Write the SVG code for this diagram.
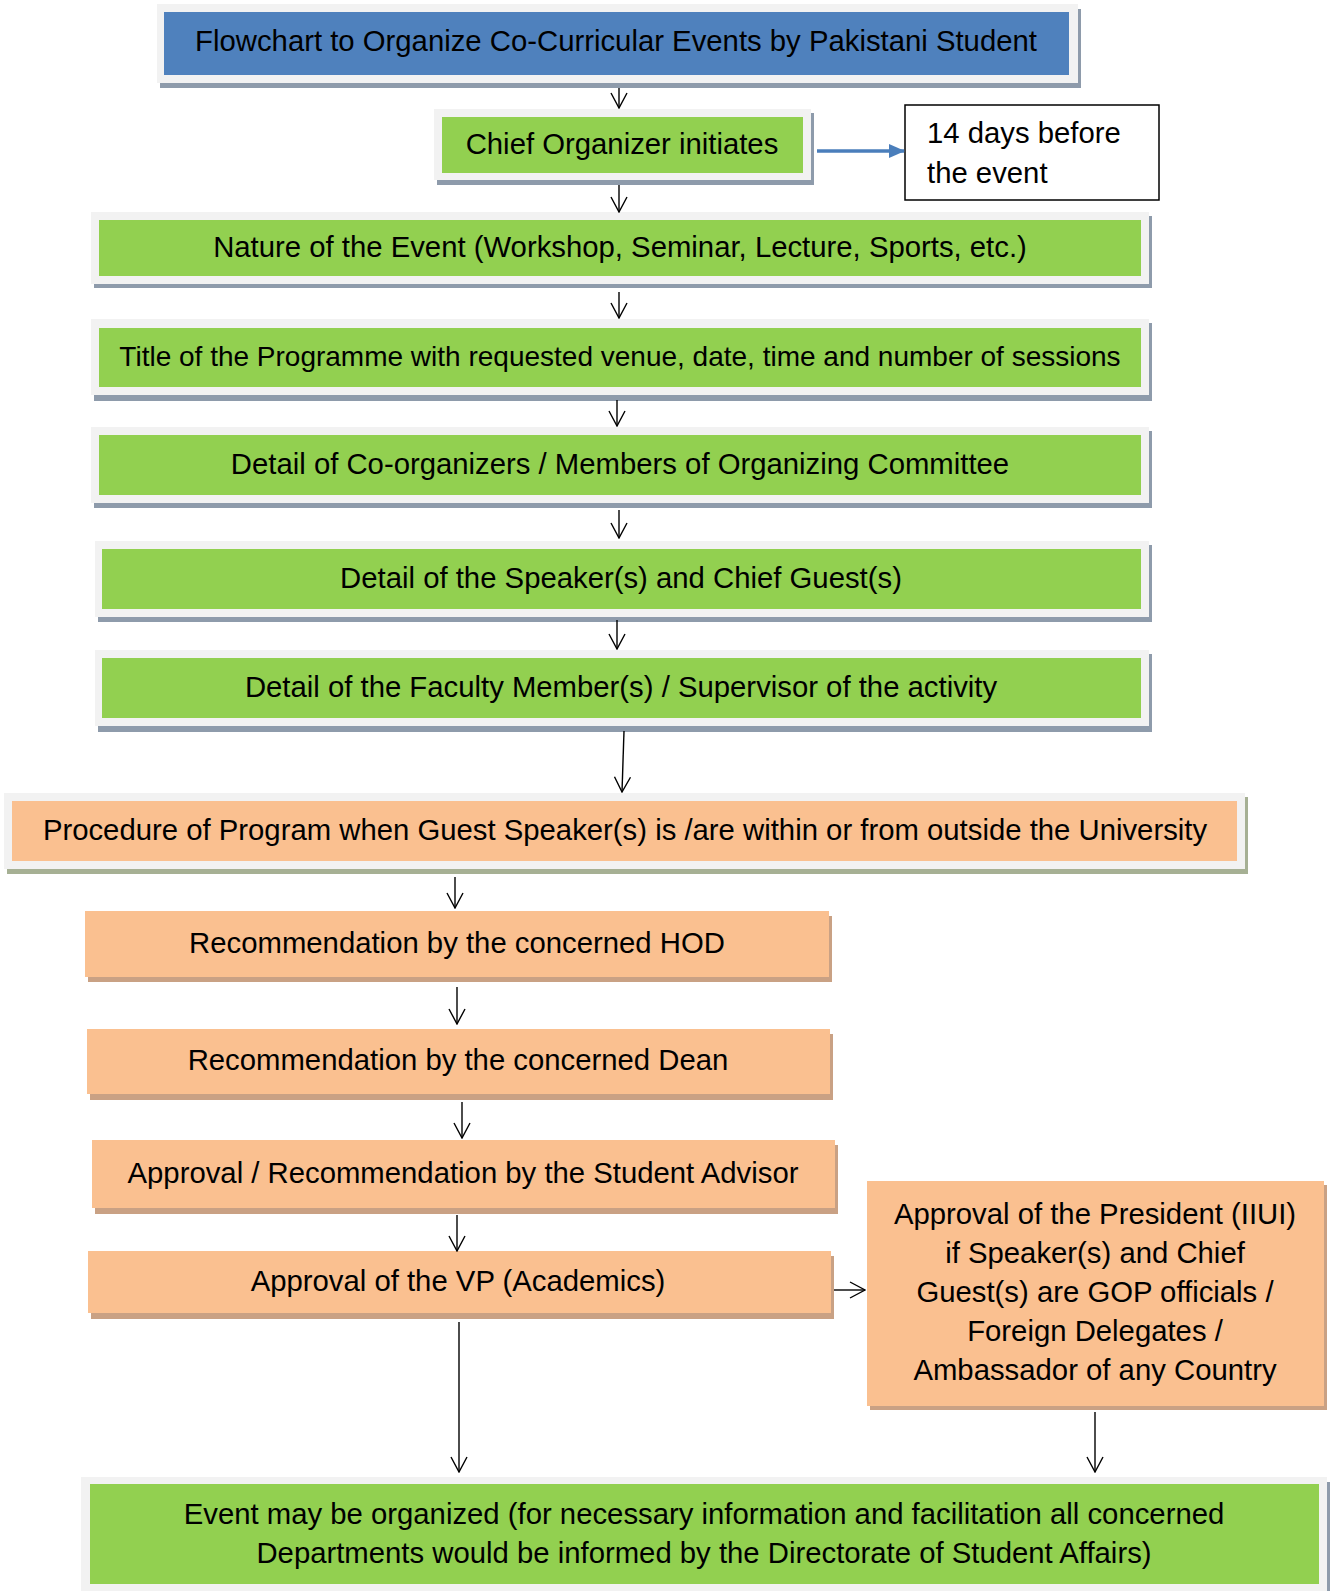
<svg xmlns="http://www.w3.org/2000/svg" width="1335" height="1591" viewBox="0 0 1335 1591">
<defs>
<style>
text{font-family:"Liberation Sans",Arial,sans-serif;font-size:29.3px;fill:#000;text-anchor:middle}
.fr{fill:#f2f2f2}
.sh{fill:#8e9bab}
.shp{fill:#a6b094}
.sho{fill:#c9a184}
.bl{fill:#4f81bd}
.gr{fill:#92d050}
.or{fill:#fac090}
.con{stroke:#000;stroke-width:1.4;fill:none;marker-end:url(#v)}
</style>
<marker id="v" viewBox="0 0 17 18" refX="16" refY="9" markerWidth="17" markerHeight="18" markerUnits="userSpaceOnUse" orient="auto">
<path d="M1,1 L16,9 L1,17" fill="none" stroke="#000" stroke-width="1.4"/>
</marker>
<marker id="bt" viewBox="0 0 16 14" refX="15" refY="7" markerWidth="16" markerHeight="14" markerUnits="userSpaceOnUse" orient="auto">
<path d="M0,0 L16,7 L0,14 Z" fill="#4a7ebb"/>
</marker>
</defs>

<g id="n-title">
<rect class="sh" x="160" y="9" width="921" height="79"/>
<rect class="fr" x="157" y="4" width="921" height="79"/>
<rect class="bl" x="164" y="12" width="905" height="63"/>
<text x="616" y="51">Flowchart to Organize Co-Curricular Events by Pakistani Student</text>
</g>

<g id="n-chief">
<rect class="sh" x="437" y="113" width="377" height="72"/>
<rect class="fr" x="434" y="109" width="377" height="71"/>
<rect class="gr" x="442" y="117" width="361" height="56"/>
<text x="622" y="154">Chief Organizer initiates</text>
</g>

<g id="n-days">
<rect x="905" y="105" width="254" height="95" fill="#fff" stroke="#000" stroke-width="1.5"/>
<text x="927" y="143" style="text-anchor:start">14 days before</text>
<text x="927" y="183" style="text-anchor:start">the event</text>
</g>

<g id="n-nature">
<rect class="sh" x="94" y="216" width="1058" height="72"/>
<rect class="fr" x="91" y="212" width="1058" height="72"/>
<rect class="gr" x="99" y="220" width="1042" height="56"/>
<text x="620" y="257">Nature of the Event (Workshop, Seminar, Lecture, Sports, etc.)</text>
</g>

<g id="n-titleprog">
<rect class="sh" x="94" y="323" width="1058" height="78"/>
<rect class="fr" x="91" y="319" width="1058" height="76"/>
<rect class="gr" x="99" y="328" width="1042" height="59"/>
<text x="620" y="366" style="font-size:28px">Title of the Programme with requested venue, date, time and number of sessions</text>
</g>

<g id="n-coorg">
<rect class="sh" x="94" y="431" width="1058" height="77"/>
<rect class="fr" x="91" y="427" width="1058" height="76"/>
<rect class="gr" x="99" y="435" width="1042" height="60"/>
<text x="620" y="474">Detail of Co-organizers / Members of Organizing Committee</text>
</g>

<g id="n-speaker">
<rect class="sh" x="98" y="545" width="1054" height="77"/>
<rect class="fr" x="95" y="541" width="1054" height="76"/>
<rect class="gr" x="102" y="549" width="1039" height="60"/>
<text x="621" y="588">Detail of the Speaker(s) and Chief Guest(s)</text>
</g>

<g id="n-faculty">
<rect class="sh" x="98" y="654" width="1054" height="78"/>
<rect class="fr" x="95" y="650" width="1054" height="76"/>
<rect class="gr" x="102" y="658" width="1039" height="60"/>
<text x="621" y="697">Detail of the Faculty Member(s) / Supervisor of the activity</text>
</g>

<g id="n-procedure">
<rect class="shp" x="7" y="797" width="1241" height="77"/>
<rect class="fr" x="4" y="793" width="1241" height="76"/>
<rect class="or" x="12" y="801" width="1225" height="60"/>
<text x="625" y="840">Procedure of Program when Guest Speaker(s) is /are within or from outside the University</text>
</g>

<g id="n-hod">
<rect class="sho" x="88" y="916" width="744" height="66"/>
<rect class="or" x="85" y="911" width="744" height="66"/>
<text x="457" y="953">Recommendation by the concerned HOD</text>
</g>

<g id="n-dean">
<rect class="sho" x="90" y="1034" width="743" height="66"/>
<rect class="or" x="87" y="1029" width="743" height="65"/>
<text x="458" y="1070">Recommendation by the concerned Dean</text>
</g>

<g id="n-advisor">
<rect class="sho" x="95" y="1145" width="743" height="69"/>
<rect class="or" x="92" y="1140" width="743" height="68"/>
<text x="463" y="1183">Approval / Recommendation by the Student Advisor</text>
</g>

<g id="n-vp">
<rect class="sho" x="91" y="1256" width="743" height="63"/>
<rect class="or" x="88" y="1251" width="743" height="62"/>
<text x="458" y="1291">Approval of the VP (Academics)</text>
</g>

<g id="n-president">
<rect class="sho" x="870" y="1185" width="457" height="225"/>
<rect class="or" x="867" y="1181" width="457" height="225"/>
<text x="1095" y="1224">Approval of the President (IIUI)</text>
<text x="1095" y="1263">if Speaker(s) and Chief</text>
<text x="1095" y="1302">Guest(s) are GOP officials /</text>
<text x="1095" y="1341">Foreign Delegates /</text>
<text x="1095" y="1380">Ambassador of any Country</text>
</g>

<g id="n-final">
<rect class="sh" x="84" y="1482" width="1246" height="109"/>
<rect class="fr" x="81" y="1477" width="1246" height="114"/>
<rect class="gr" x="90" y="1484" width="1229" height="100"/>
<text x="704" y="1524">Event may be organized (for necessary information and facilitation all concerned</text>
<text x="704" y="1563">Departments would be informed by the Directorate of Student Affairs)</text>
</g>

<g id="connectors">
<line class="con" x1="619" y1="88" x2="619" y2="108"/>
<line x1="817" y1="151" x2="904" y2="151" stroke="#4a7ebb" stroke-width="3.5" marker-end="url(#bt)"/>
<line class="con" x1="619" y1="185" x2="619" y2="212"/>
<line class="con" x1="619" y1="292" x2="619" y2="318"/>
<line class="con" x1="617" y1="400" x2="617" y2="426"/>
<line class="con" x1="619" y1="510" x2="619" y2="538"/>
<line class="con" x1="617" y1="620" x2="617" y2="649"/>
<line class="con" x1="624" y1="731" x2="622" y2="792"/>
<line class="con" x1="455" y1="877" x2="455" y2="908"/>
<line class="con" x1="457" y1="987" x2="457" y2="1024"/>
<line class="con" x1="462" y1="1102" x2="462" y2="1138"/>
<line class="con" x1="457" y1="1215" x2="457" y2="1251"/>
<line class="con" x1="834" y1="1290" x2="865" y2="1290"/>
<line class="con" x1="459" y1="1322" x2="459" y2="1472"/>
<line class="con" x1="1095" y1="1412" x2="1095" y2="1472"/>
</g>
</svg>
